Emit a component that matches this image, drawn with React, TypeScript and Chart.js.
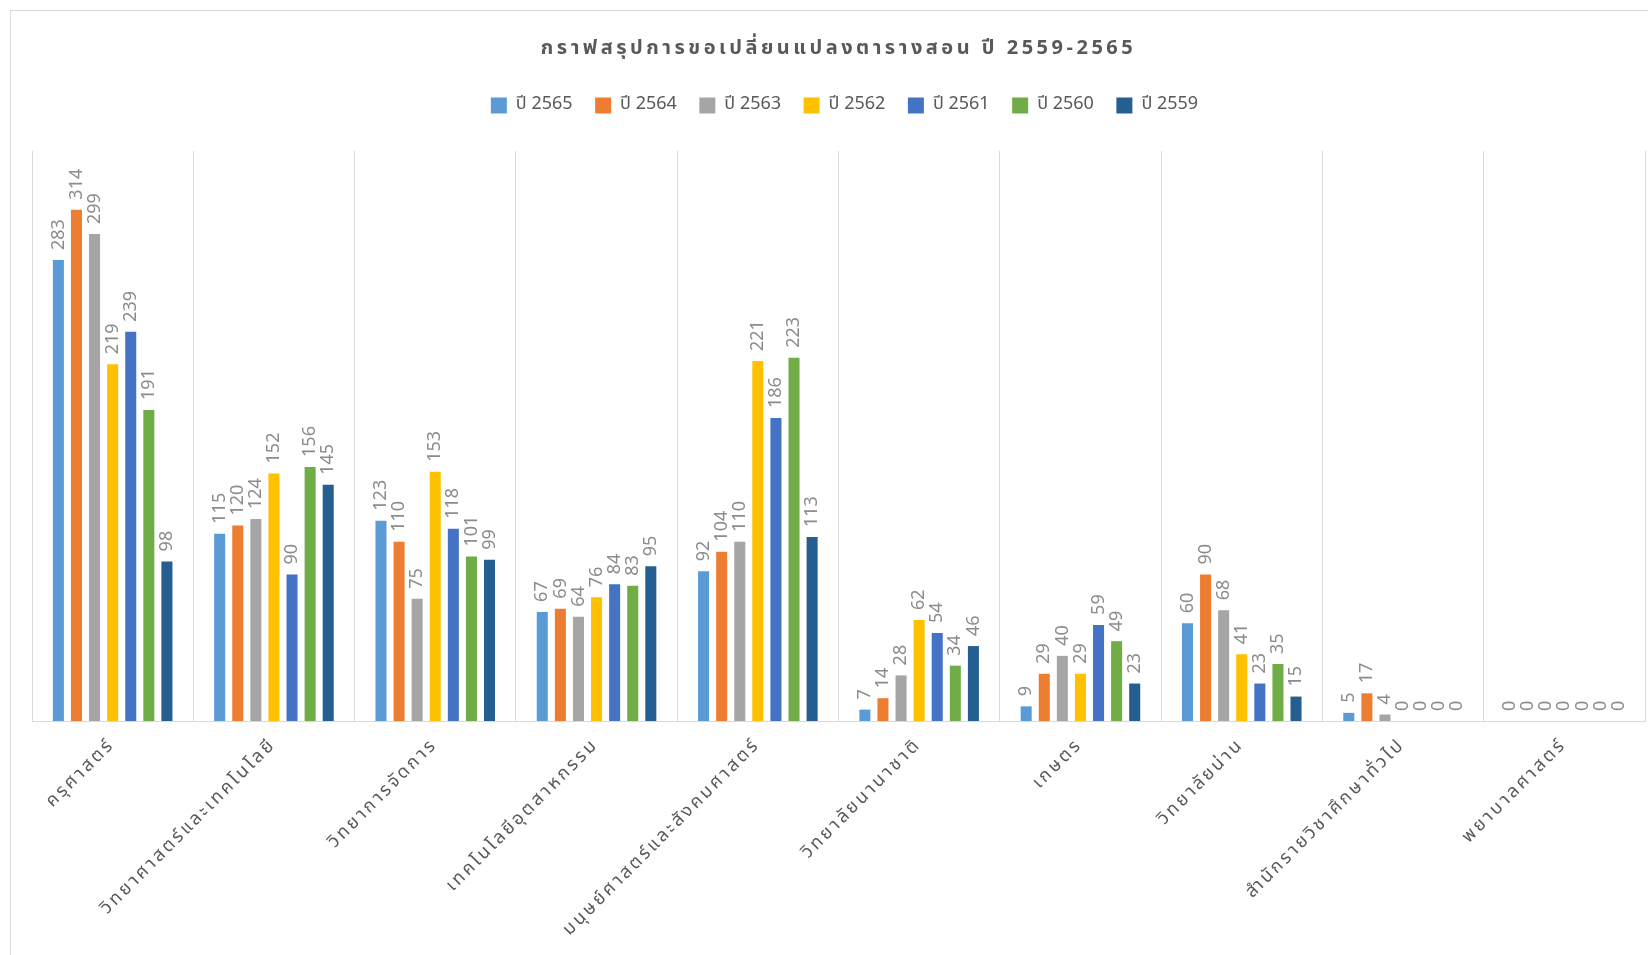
import { useEffect, useRef } from 'react';
import { Chart, registerables } from 'chart.js';

Chart.register(...registerables);

const TITLE = 'กราฟสรุปการขอเปลี่ยนแปลงตารางสอน ปี 2559-2565';

const categories = [
  'ครุศาสตร์',
  'วิทยาศาสตร์และเทคโนโลยี',
  'วิทยาการจัดการ',
  'เทคโนโลยีอุตสาหกรรม',
  'มนุษย์ศาสตร์และสังคมศาสตร์',
  'วิทยาลัยนานาชาติ',
  'เกษตร',
  'วิทยาลัยน่าน',
  'สำนักรายวิชาศึกษาทั่วไป',
  'พยาบาลศาสตร์',
];

const seriesLabels = ['ปี 2565', 'ปี 2564', 'ปี 2563', 'ปี 2562', 'ปี 2561', 'ปี 2560', 'ปี 2559'];
const seriesColors = ['#5B9BD5', '#ED7D31', '#A5A5A5', '#FFC000', '#4472C4', '#70AD47', '#255E91'];

const y2565 = [283, 115, 123, 67, 92, 7, 9, 60, 5, 0];
const y2564 = [314, 120, 110, 69, 104, 14, 29, 90, 17, 0];
const y2563 = [299, 124, 75, 64, 110, 28, 40, 68, 4, 0];
const y2562 = [219, 152, 153, 76, 221, 62, 29, 41, 0, 0];
const y2561 = [239, 90, 118, 84, 186, 54, 59, 23, 0, 0];
const y2560 = [191, 156, 101, 83, 223, 34, 49, 35, 0, 0];
const y2559 = [98, 145, 99, 95, 113, 46, 23, 15, 0, 0];
const seriesValues = [y2565, y2564, y2563, y2562, y2561, y2560, y2559];

const Y_MIN = 0;
const Y_MAX = 350;

const FONT = '"Noto Sans Thai", "Leelawadee UI", "Noto Sans", "DejaVu Sans", sans-serif';

const titlePlugin = {
  id: 'customTitle',
  afterDraw(chart: any) {
    const { ctx, chartArea } = chart;
    (ctx as any).letterSpacing = '0px';
    ctx.save();
    ctx.font = `bold 20px ${FONT}`;
    (ctx as any).letterSpacing = '3.5px';
    ctx.fillStyle = '#595959';
    ctx.textAlign = 'center';
    ctx.textBaseline = 'middle';
    ctx.fillText(TITLE, (chartArea.left + chartArea.right) / 2, 50);
    ctx.restore();
  },
};

const legendGapPlugin = {
  id: 'legendGap',
  beforeInit(chart: any) {
    const legend = chart.legend;
    if (!legend) return;
    const orig = legend.fit;
    legend.fit = function fit() {
      orig.bind(legend)();
      this.height += 26.5;
    };
  },
  afterLayout(chart: any) {
    const legend = chart.legend;
    if (!legend) return;
    legend.left += 6;
    legend.right += 6;
  },
};

const dataLabelPlugin = {
  id: 'barValueLabels',
  afterDatasetsDraw(chart: any) {
    const { ctx } = chart;
    ctx.save();
    ctx.font = `18px ${FONT}`;
    ctx.fillStyle = '#8c8c8c';
    ctx.textAlign = 'left';
    ctx.textBaseline = 'middle';
    chart.data.datasets.forEach((ds: any, di: number) => {
      const meta = chart.getDatasetMeta(di);
      meta.data.forEach((bar: any, i: number) => {
        const v = ds.data[i];
        ctx.save();
        ctx.translate(bar.x, bar.y - 10);
        ctx.rotate(-Math.PI / 2);
        ctx.fillText(String(v), 0, 1.5);
        ctx.restore();
      });
    });
    ctx.restore();
    // category labels (drawn after datasets, z = 1) are letter-spaced
    (ctx as any).letterSpacing = '2.8px';
  },
};

export default function App() {
  const canvasRef = useRef<HTMLCanvasElement | null>(null);

  useEffect(() => {
    document.body.style.margin = '0';
    const canvas = canvasRef.current;
    if (!canvas) return;
    const chart = new Chart(canvas, {
      type: 'bar',
      data: {
        labels: categories,
        datasets: seriesLabels.map((label, i) => ({
          label,
          data: seriesValues[i],
          backgroundColor: seriesColors[i],
          borderWidth: 0,
          categoryPercentage: 0.785,
          barPercentage: 0.61,
        })),
      },
      options: {
        animation: false,
        responsive: true,
        maintainAspectRatio: false,
        layout: { padding: { top: 74, left: 32, right: 3, bottom: 0 } },
        plugins: {
          title: { display: false },
          tooltip: { enabled: false },
          legend: {
            display: true,
            position: 'top',
            labels: {
              boxWidth: 16,
              boxHeight: 16,
              padding: 22.5,
              color: '#595959',
              font: { family: FONT, size: 18 },
            },
          },
        },
        scales: {
          x: {
            grid: { offset: true, color: '#d9d9d9', drawTicks: false, lineWidth: 1 },
            border: { color: '#d9d9d9', width: 1 },
            ticks: {
              z: 1,
              autoSkip: false,
              maxRotation: 45,
              minRotation: 45,
              padding: 14,
              color: '#595959',
              font: { family: FONT, size: 18 },
            },
            afterFit(scale: any) {
              scale.height = 234;
            },
          },
          y: {
            display: false,
            min: Y_MIN,
            max: Y_MAX,
          },
        },
      },
      plugins: [titlePlugin, legendGapPlugin, dataLabelPlugin],
    });
    return () => chart.destroy();
  }, []);

  return (
    <div>
      <div
        style={{
          position: 'fixed',
          left: 10,
          top: 10,
          width: 1700,
          height: 1000,
          border: '1px solid #d9d9d9',
          boxSizing: 'border-box',
        }}
      />
      <div style={{ position: 'fixed', left: 0, top: 0, width: 1648, height: 955 }}>
        <canvas ref={canvasRef} />
      </div>
    </div>
  );
}
